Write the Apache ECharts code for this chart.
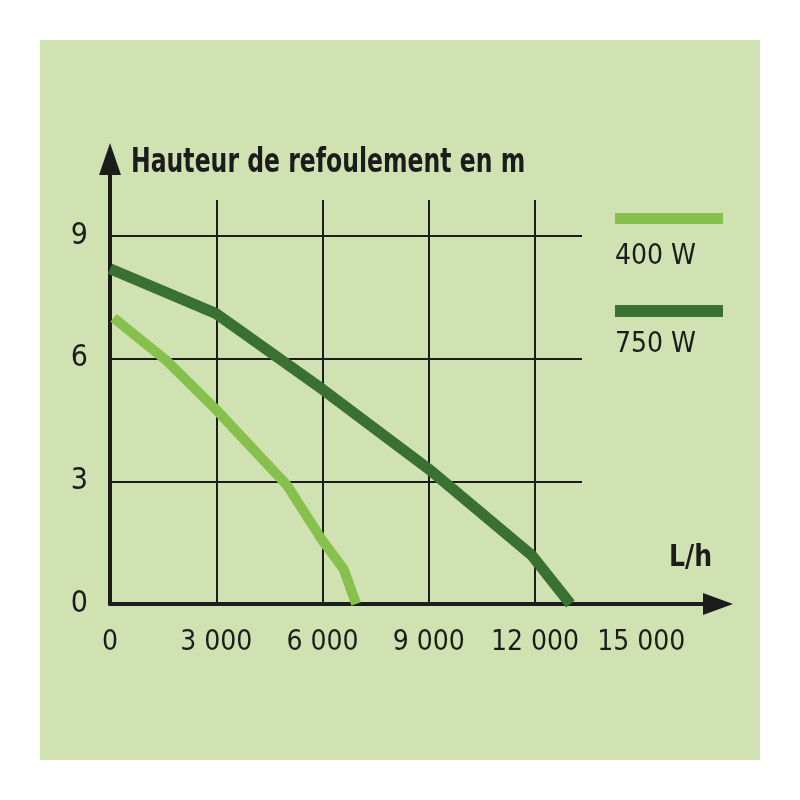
<!DOCTYPE html>
<html><head><meta charset="utf-8">
<script src="https://cdn.jsdelivr.net/npm/echarts@6/dist/echarts.min.js"></script>
<style>html,body{margin:0;padding:0;background:#fff}#c{width:800px;height:800px;background:#d0e2b1;box-shadow:inset 0 0 0 40px #fff}</style>
</head><body><div id="c"></div>
<script>
const seriesNames = ['400 W', '750 W'];
const flow400 = [100, 1600, 3000, 5000, 6000, 6600, 6950];
const head400 = [7.0, 5.95, 4.75, 2.9, 1.55, 0.85, 0];
const flow750 = [0, 3000, 6000, 9000, 11900, 13000];
const head750 = [8.2, 7.1, 5.25, 3.3, 1.2, 0];
const xTicks = [0, 3000, 6000, 9000, 12000, 15000];
const yTicks = [0, 3, 6, 9];
const yTitle = 'Hauteur de refoulement en m';
const xTitle = 'L/h';

const FONT = '"Liberation Sans Narrow","DejaVu Sans Condensed","Liberation Sans",sans-serif';
const C400 = '#87c04d', C750 = '#3a7032', INK = '#1c1c1c';

const pts = (xs, ys) => xs.map((x, i) => [x, ys[i]]);
const fmtX = v => xTicks.includes(v) ? String(v).replace(/\B(?=(\d{3})+(?!\d))/g, ' ') : '';
const fmtY = v => yTicks.includes(v) ? String(v) : '';

const chart = echarts.init(document.getElementById('c'));
chart.setOption({
  backgroundColor: 'transparent',
  animation: false,
  graphic: [
    { type: 'text', x: 131, y: 146, scaleX: 0.77, scaleY: 1, originX: 0, originY: 0, silent: true,
      style: { text: yTitle, fontFamily: FONT, fontSize: 34, fontWeight: 'bold', fill: INK,
        textAlign: 'left', textVerticalAlign: 'top' } },
    { type: 'text', x: 669, y: 542, scaleX: 0.9, scaleY: 1, originX: 0, originY: 0, silent: true,
      style: { text: xTitle, fontFamily: FONT, fontSize: 31, fontWeight: 'bold', fill: INK,
        textAlign: 'left', textVerticalAlign: 'top' } }
  ],
  legend: [
    { data: [seriesNames[0]], left: 615, top: 213, padding: 0, icon: 'rect',
      itemWidth: 108, itemHeight: 11, formatter: () => '', selectedMode: false },
    { data: [seriesNames[1]], left: 615, top: 305, padding: 0, icon: 'rect',
      itemWidth: 108, itemHeight: 12, formatter: () => '', selectedMode: false },
    { data: [seriesNames[0]], left: 610, top: 243, padding: 0, icon: 'none',
      itemWidth: 0, itemHeight: 0, selectedMode: false,
      textStyle: { fontFamily: FONT, fontSize: 28, color: INK } },
    { data: [seriesNames[1]], left: 610, top: 331, padding: 0, icon: 'none',
      itemWidth: 0, itemHeight: 0, selectedMode: false,
      textStyle: { fontFamily: FONT, fontSize: 28, color: INK } }
  ],
  grid: [
    { left: 110, top: 159, width: 608, height: 445, containLabel: false },
    { left: 110, top: 200, width: 472, height: 404, containLabel: false }
  ],
  xAxis: [
    { type: 'value', gridIndex: 0, min: 0, max: 17167, interval: 3000,
      axisLine: { show: true, symbol: ['none', 'triangle'], symbolSize: [22, 30],
        lineStyle: { color: INK, width: 4 } },
      axisTick: { show: false }, splitLine: { show: false },
      axisLabel: { show: true, showMaxLabel: false, margin: 25, formatter: fmtX,
        fontFamily: FONT, fontSize: 28, color: INK } },
    { type: 'value', gridIndex: 1, min: 0, max: 13327, interval: 3000,
      axisLine: { show: false }, axisTick: { show: false }, axisLabel: { show: false },
      splitLine: { show: true, showMinLine: false, showMaxLine: false,
        lineStyle: { color: INK, width: 2 } } }
  ],
  yAxis: [
    { type: 'value', gridIndex: 0, min: 0, max: 10.88, interval: 3,
      axisLine: { show: true, symbol: ['none', 'triangle'], symbolSize: [22, 32],
        lineStyle: { color: INK, width: 4 } },
      axisTick: { show: false }, splitLine: { show: false },
      axisLabel: { show: true, showMaxLabel: false, margin: 22, formatter: fmtY,
        fontFamily: FONT, fontSize: 30, color: INK } },
    { type: 'value', gridIndex: 1, min: 0, max: 9.88, interval: 3,
      axisLine: { show: false }, axisTick: { show: false }, axisLabel: { show: false },
      splitLine: { show: true, showMinLine: false, showMaxLine: false,
        lineStyle: { color: INK, width: 2 } } }
  ],
  series: [
    { name: seriesNames[0], type: 'line', xAxisIndex: 1, yAxisIndex: 1,
      data: pts(flow400, head400), showSymbol: false, color: C400,
      lineStyle: { width: 10, color: C400 }, z: 3 },
    { name: seriesNames[1], type: 'line', xAxisIndex: 1, yAxisIndex: 1,
      data: pts(flow750, head750), showSymbol: false, color: C750,
      lineStyle: { width: 11, color: C750 }, z: 3 }
  ]
});
</script></body></html>
